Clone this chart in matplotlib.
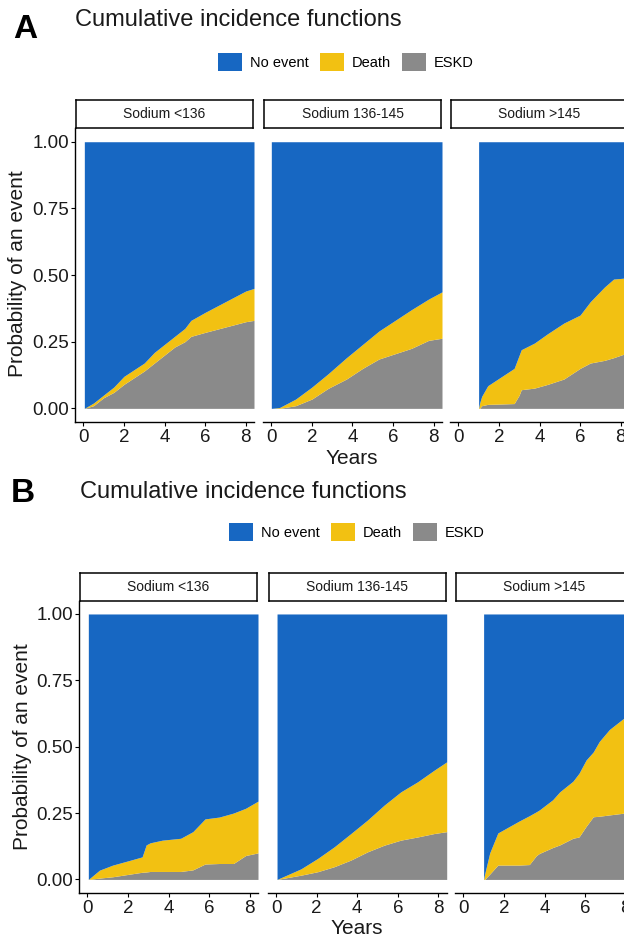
import matplotlib
matplotlib.use("Agg")
import matplotlib.pyplot as plt
from matplotlib.patches import Patch

plt.rcParams['font.family'] = ['Liberation Sans', 'DejaVu Sans']

# ---- data (years, cumulative probabilities) ----
facet_labels = ["Sodium <136", "Sodium 136-145", "Sodium >145"]
legend_labels = ["No event", "Death", "ESKD"]
x_ticks = [0, 2, 4, 6, 8]
y_ticks = [0.0, 0.25, 0.50, 0.75, 1.00]

# panel A
a1_t = [0.05, 0.5, 1.0, 1.5, 2.0, 2.6, 3.0, 3.5, 4.0, 4.5, 5.0, 5.3, 6.0, 6.5, 7.0, 7.5, 8.0, 8.41]
a1_total = [0.0, 0.02, 0.05, 0.08, 0.12, 0.15, 0.17, 0.21, 0.24, 0.27, 0.30, 0.33, 0.36, 0.38, 0.40, 0.42, 0.44, 0.45]
a1_eskd = [0.0, 0.01, 0.04, 0.06, 0.09, 0.12, 0.14, 0.17, 0.20, 0.23, 0.25, 0.27, 0.285, 0.295, 0.305, 0.315, 0.325, 0.33]

a2_t = [0.0, 0.4, 1.2, 2.0, 2.8, 3.7, 4.5, 5.3, 6.1, 6.9, 7.75, 8.41]
a2_total = [0.0, 0.003, 0.035, 0.08, 0.13, 0.19, 0.24, 0.29, 0.33, 0.37, 0.41, 0.437]
a2_eskd = [0.0, 0.0, 0.01, 0.035, 0.075, 0.11, 0.15, 0.185, 0.205, 0.225, 0.255, 0.263]

a3_t = [1.0, 1.05, 1.15, 1.45, 1.95, 2.75, 3.0, 3.1, 3.75, 4.4, 5.2, 6.0, 6.5, 7.2, 7.65, 8.41]
a3_total = [0.0, 0.02, 0.045, 0.085, 0.11, 0.15, 0.20, 0.22, 0.245, 0.28, 0.32, 0.35, 0.40, 0.455, 0.485, 0.49]
a3_eskd = [0.0, 0.0, 0.01, 0.015, 0.016, 0.018, 0.05, 0.07, 0.076, 0.09, 0.11, 0.15, 0.17, 0.18, 0.19, 0.21]

# panel B
b1_t = [0.05, 0.6, 1.25, 2.1, 2.7, 2.9, 3.1, 3.7, 4.6, 5.2, 5.8, 6.5, 7.2, 7.8, 8.41]
b1_total = [0.0, 0.035, 0.054, 0.072, 0.085, 0.13, 0.138, 0.148, 0.155, 0.18, 0.228, 0.235, 0.25, 0.268, 0.295]
b1_eskd = [0.0, 0.005, 0.01, 0.02, 0.027, 0.028, 0.03, 0.03, 0.03, 0.036, 0.058, 0.06, 0.06, 0.09, 0.10]

b2_t = [0.05, 1.23, 2.05, 2.87, 3.69, 4.51, 5.33, 6.15, 6.98, 7.8, 8.41]
b2_total = [0.0, 0.04, 0.079, 0.123, 0.173, 0.224, 0.28, 0.33, 0.368, 0.412, 0.443]
b2_eskd = [0.0, 0.016, 0.029, 0.048, 0.073, 0.104, 0.129, 0.148, 0.16, 0.173, 0.18]

b3_t = [1.0, 1.05, 1.3, 1.7, 2.75, 3.25, 3.6, 3.75, 4.4, 4.75, 5.4, 5.7, 6.05, 6.4, 6.7, 7.2, 7.95, 8.41]
b3_total = [0.0, 0.02, 0.10, 0.175, 0.22, 0.24, 0.255, 0.262, 0.30, 0.33, 0.37, 0.40, 0.45, 0.48, 0.52, 0.565, 0.61, 0.63]
b3_eskd = [0.0, 0.0, 0.02, 0.054, 0.054, 0.056, 0.09, 0.098, 0.12, 0.13, 0.155, 0.16, 0.20, 0.236, 0.238, 0.243, 0.25, 0.26]

BLUE = "#1767C2"
YELLOW = "#F2C112"
GRAY = "#8A8A8A"
TXT = "#1a1a1a"

W, H = 624, 940
fig = plt.figure(figsize=(W / 100, H / 100), dpi=100)


def box(left, top, width, height):
    # pixel box -> figure fraction
    return [left / W, 1 - (top + height) / H, width / W, height / H]


def draw_panel(letter, letter_xy, title_xy, legend_xy, ylab_xy, xlab_xy,
               lefts, top, height, strip_h, facets):
    fig.text(letter_xy[0] / W, 1 - letter_xy[1] / H, letter, fontsize=24,
             fontweight="bold", ha="center", va="center", color="black")
    fig.text(title_xy[0] / W, 1 - title_xy[1] / H, "Cumulative incidence functions",
             fontsize=17, ha="left", va="center", color=TXT)

    handles = [Patch(facecolor=c, edgecolor="none") for c in (BLUE, YELLOW, GRAY)]
    fig.legend(handles, legend_labels, loc="center", ncol=3, frameon=False,
               bbox_to_anchor=(legend_xy[0] / W, 1 - legend_xy[1] / H),
               fontsize=10.5, handlelength=1.6, handleheight=1.6,
               handletextpad=0.55, columnspacing=0.8, borderpad=0)

    width = 179
    for i, (t, total, eskd) in enumerate(facets):
        ax = fig.add_axes(box(lefts[i], top, width, height))
        ax.fill_between(t, 0, eskd, color=GRAY, lw=0)
        ax.fill_between(t, eskd, total, color=YELLOW, lw=0)
        ax.fill_between(t, total, 1, color=BLUE, lw=0)
        ax.set_xlim(-0.41, 8.41)
        ax.set_ylim(-0.05, 1.05)
        for s in ("top", "right"):
            ax.spines[s].set_visible(False)
        ax.spines["bottom"].set_linewidth(1.0)
        ax.spines["left"].set_linewidth(1.0)
        ax.set_xticks(x_ticks)
        ax.tick_params(axis="both", length=3, width=0.8, labelsize=13.5,
                       labelcolor=TXT, pad=2)
        if i == 0:
            ax.set_yticks(y_ticks)
            ax.set_yticklabels([f"{v:.2f}" for v in y_ticks])
            ax.tick_params(axis="y", pad=1)
        else:
            ax.spines["left"].set_visible(False)
            ax.set_yticks([])

        sax = fig.add_axes(box(lefts[i] + 1, top - strip_h, width - 2, strip_h))
        sax.set_xticks([])
        sax.set_yticks([])
        for s in sax.spines.values():
            s.set_linewidth(1.1)
        sax.text(0.5, 0.5, facet_labels[i], ha="center", va="center",
                 fontsize=10, color=TXT, transform=sax.transAxes)

    fig.text(ylab_xy[0] / W, 1 - ylab_xy[1] / H, "Probability of an event",
             rotation=90, fontsize=15, ha="center", va="center", color=TXT)
    fig.text(xlab_xy[0] / W, 1 - xlab_xy[1] / H, "Years",
             fontsize=15, ha="center", va="center", color=TXT)


draw_panel("A", (25, 30), (75, 20), (346, 62), (18, 274), (352, 459),
           [75, 263, 450], 128.4, 293.3, 28,
           [(a1_t, a1_total, a1_eskd), (a2_t, a2_total, a2_eskd), (a3_t, a3_total, a3_eskd)])

draw_panel("B", (23, 493), (80, 492), (357, 532), (23, 747), (357, 929),
           [79, 267.7, 455], 600.7, 292, 28,
           [(b1_t, b1_total, b1_eskd), (b2_t, b2_total, b2_eskd), (b3_t, b3_total, b3_eskd)])

fig.savefig("out.png", dpi=100)
